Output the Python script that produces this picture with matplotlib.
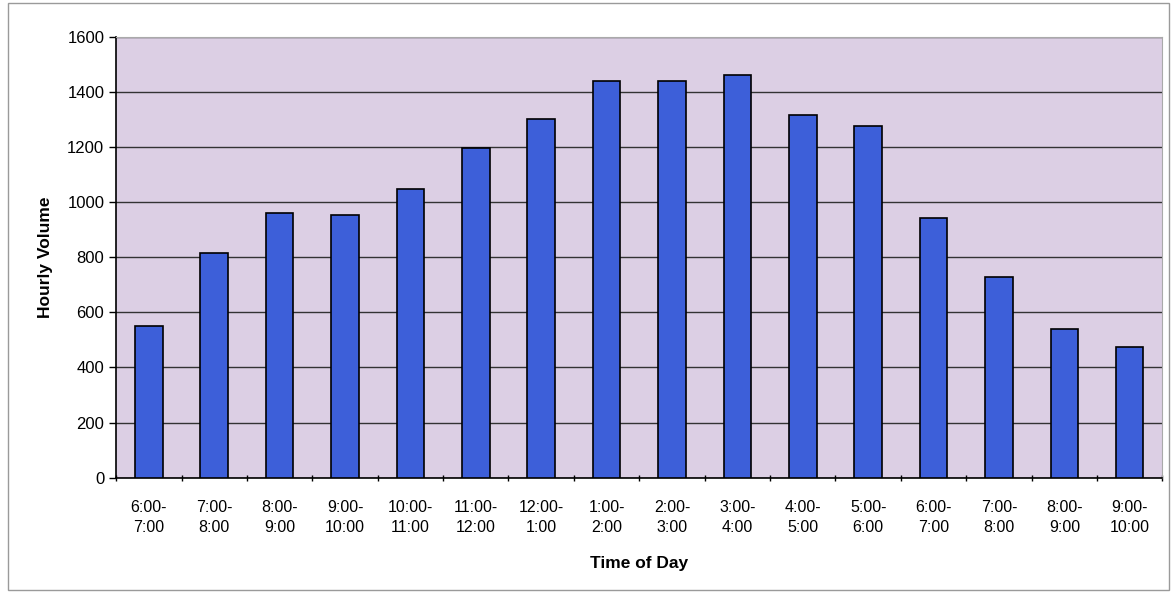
import matplotlib.pyplot as plt
import numpy as np
from matplotlib.patches import Rectangle

plt.rcParams['font.family'] = ['Liberation Sans', 'DejaVu Sans']

time_labels = ["6:00-\n7:00", "7:00-\n8:00", "8:00-\n9:00", "9:00-\n10:00", "10:00-\n11:00",
               "11:00-\n12:00", "12:00-\n1:00", "1:00-\n2:00", "2:00-\n3:00", "3:00-\n4:00",
               "4:00-\n5:00", "5:00-\n6:00", "6:00-\n7:00", "7:00-\n8:00", "8:00-\n9:00",
               "9:00-\n10:00"]
hourly_volume = [549, 817, 962, 952, 1048, 1195, 1300, 1441, 1438, 1461,
                 1316, 1277, 944, 728, 538, 476]
y_ticks = [0, 200, 400, 600, 800, 1000, 1200, 1400, 1600]


def main():
    fig = plt.figure(figsize=(11.73, 5.92), dpi=100)
    fig.patches.append(Rectangle((0.007, 0.004), 0.99, 0.991, transform=fig.transFigure,
                                 fill=False, edgecolor='#9a9a9a', linewidth=1))
    ax = fig.add_axes([0.099, 0.193, 0.892, 0.745])
    ax.set_facecolor('#dccfe4')

    x = np.arange(len(hourly_volume))
    ax.bar(x, hourly_volume, width=0.42, color='#3d5fd9', edgecolor='black',
           linewidth=1.2, zorder=3)

    ax.set_xlim(-0.5, len(hourly_volume) - 0.5)
    ax.set_ylim(0, 1600)
    ax.set_yticks(y_ticks)
    ax.yaxis.grid(True, color='#333333', linewidth=1, zorder=1)
    ax.set_axisbelow(True)

    ax.set_xticks(x)
    ax.set_xticklabels(time_labels, fontsize=11.5, linespacing=1.45)
    ax.set_xticks(np.arange(-0.5, len(hourly_volume), 1), minor=True)
    ax.tick_params(axis='x', which='major', length=0, pad=16)
    ax.tick_params(axis='x', which='minor', length=5, direction='inout', width=1)
    ax.tick_params(axis='y', labelsize=12, length=5, width=1, direction='out')

    for side in ['top', 'right']:
        ax.spines[side].set_color('#aaaaaa')
        ax.spines[side].set_linewidth(0.8)
    for side in ['left', 'bottom']:
        ax.spines[side].set_color('black')
        ax.spines[side].set_linewidth(1.2)

    ax.set_xlabel('Time of Day', fontsize=12.5, fontweight='bold', labelpad=15)
    ax.set_ylabel('Hourly Volume', fontsize=12.5, fontweight='bold', labelpad=10)

    fig.savefig('out.png', dpi=100)


if __name__ == '__main__':
    main()
